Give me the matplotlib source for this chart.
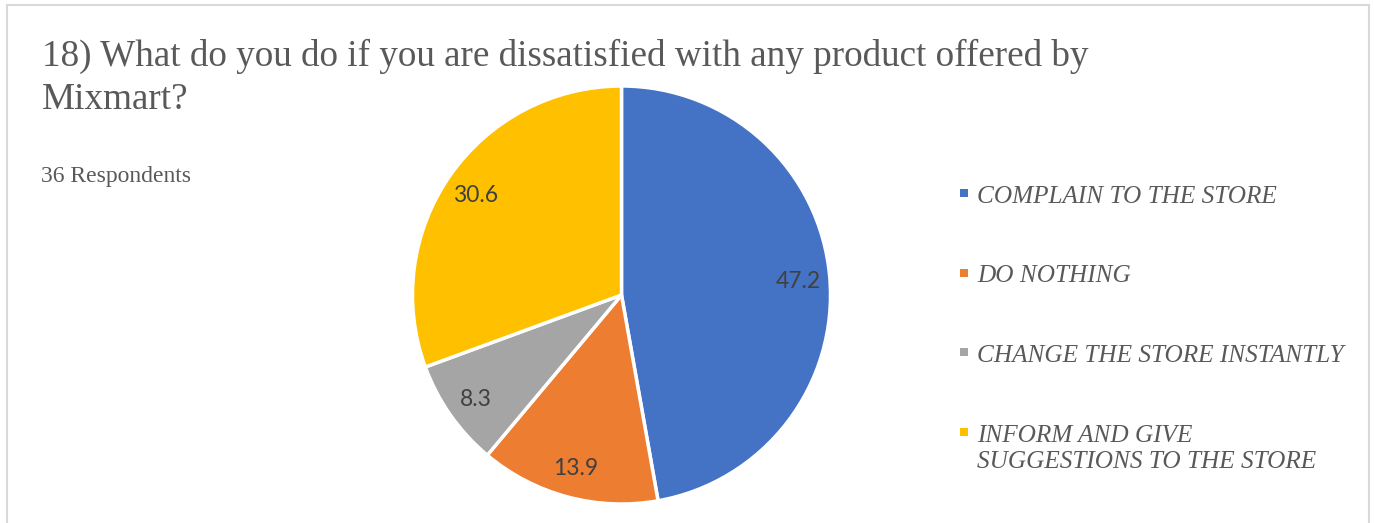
import matplotlib.pyplot as plt
import numpy as np
from matplotlib.patches import Rectangle

# data
categories = ["COMPLAIN TO THE STORE", "DO NOTHING", "CHANGE THE STORE INSTANTLY",
              "INFORM AND GIVE\nSUGGESTIONS TO THE STORE"]
values = [47.2, 13.9, 8.3, 30.6]
colors = ["#4472C4", "#ED7D31", "#A5A5A5", "#FFC000"]
title = "18) What do you do if you are dissatisfied with any product offered by\nMixmart?"
subtitle = "36 Respondents"

W, H = 1374, 523
fig = plt.figure(figsize=(W / 100, H / 100), dpi=100)

# outer frame like the Excel chart area
fig.patches.append(Rectangle((7 / W, -0.01), (1369 - 7) / W, (H - 5) / H + 0.01,
                             transform=fig.transFigure, fill=False,
                             edgecolor="#D9D9D9", linewidth=1.5))

# pie axes: centre (621.5, 295) px, radius 209 px
cx, cy, r = 621.5, 295, 209
ax = fig.add_axes([(cx - r) / W, (H - cy - r) / H, 2 * r / W, 2 * r / H])
wedges, _ = ax.pie(values, colors=colors, startangle=90, counterclock=False,
                   radius=1, wedgeprops=dict(edgecolor="white", linewidth=2.5))
ax.set_xlim(-1, 1)
ax.set_ylim(-1, 1)
ax.set_aspect("auto")
ax.axis("off")

# data labels inside the slices
for w, v in zip(wedges, values):
    ang = np.deg2rad((w.theta1 + w.theta2) / 2)
    d = 0.85
    ax.text(d * np.cos(ang), d * np.sin(ang), f"{v}", ha="center",
            va="center_baseline", fontsize=16.5, color="#404040", family="Lato")

# title (one text per line so each baseline can be placed) and subtitle
for k, line in enumerate(title.split("\n")):
    fig.text(42 / W, 1 - (66 + 43 * k) / H, line, ha="left", va="baseline",
             fontsize=26.7, family="Liberation Serif", color="#595959")
fig.text(41 / W, 1 - 182 / H, subtitle, ha="left", va="baseline", fontsize=17,
         family="Liberation Serif", color="#595959")

# legend drawn by hand to match Excel's spacing
y0, step = 193, 79.5
for i, (lab, c) in enumerate(zip(categories, colors)):
    yc = y0 + i * step
    fig.patches.append(Rectangle((960 / W, 1 - (yc + 4) / H), 8 / W, 8 / H,
                                 transform=fig.transFigure, color=c, linewidth=0))
    for k, line in enumerate(lab.split("\n")):
        fig.text(977 / W, 1 - (yc + 10 + 26 * k) / H, line, ha="left", va="baseline",
                 fontsize=18.2, style="italic", family="Liberation Serif",
                 color="#595959")

fig.savefig("out.png", dpi=100)
